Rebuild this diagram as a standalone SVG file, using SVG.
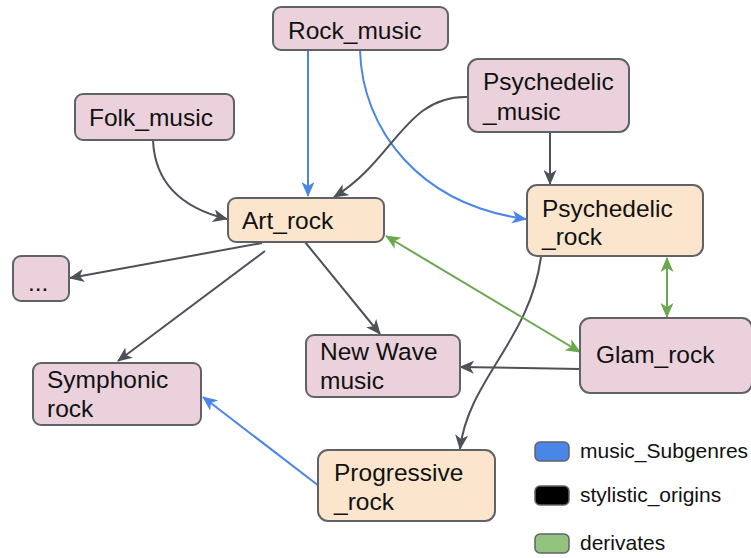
<svg xmlns="http://www.w3.org/2000/svg" width="751" height="558" viewBox="0 0 751 558">
<style>
.n rect{stroke:#5f6368;stroke-width:2}
.p rect{fill:#ead1dc}
.o rect{fill:#fce5cd}
text{font-family:"Liberation Sans",Arial,sans-serif;font-size:24.5px;fill:#111}
.lg{font-size:21px}
.e{fill:none;stroke-width:2}
.k{stroke:#4d5158}
.b{stroke:#4a86e8}
.g{stroke:#6aa84f}
</style>
<defs>
<marker id="ak" markerUnits="userSpaceOnUse" markerWidth="17" markerHeight="13" refX="14" refY="6.5" orient="auto"><path d="M0,0 L15,6.5 L0,13 L4,6.5 z" fill="#4d5158"/></marker>
<marker id="ab" markerUnits="userSpaceOnUse" markerWidth="17" markerHeight="13" refX="14" refY="6.5" orient="auto"><path d="M0,0 L15,6.5 L0,13 L4,6.5 z" fill="#4a86e8"/></marker>
<marker id="ag" markerUnits="userSpaceOnUse" markerWidth="17" markerHeight="13" refX="14" refY="6.5" orient="auto-start-reverse"><path d="M0,0 L15,6.5 L0,13 L4,6.5 z" fill="#6aa84f"/></marker>
</defs>
<g id="edges">
<path class="e b" d="M308 50 L308 196" marker-end="url(#ab)"/>
<path class="e b" d="M360 50 C362 130,420 205,526 219" marker-end="url(#ab)"/>
<path class="e k" d="M153 140 C155 190,190 210,227 219" marker-end="url(#ak)"/>
<path class="e k" d="M468 97 C405 95,395 160,334 197" marker-end="url(#ak)"/>
<path class="e k" d="M550 132 L550 184" marker-end="url(#ak)"/>
<path class="e k" d="M262 243 L70 278" marker-end="url(#ak)"/>
<path class="e k" d="M265 251 L118 361" marker-end="url(#ak)"/>
<path class="e k" d="M305 242 L380 334" marker-end="url(#ak)"/>
<path class="e k" d="M580 369 L460 367" marker-end="url(#ak)"/>
<path class="e k" d="M541 257 C530 340,468 380,460 449" marker-end="url(#ak)"/>
<path class="e b" d="M319 486 L203 397" marker-end="url(#ab)"/>
<path class="e g" d="M386 236 L580 352" marker-start="url(#ag)" marker-end="url(#ag)"/>
<path class="e g" d="M667 258 L667 317" marker-start="url(#ag)" marker-end="url(#ag)"/>
</g>
<g id="rock_music" class="n p"><rect x="273" y="7" width="175" height="43" rx="8"/><text x="288" y="39">Rock_music</text></g>
<g id="folk_music" class="n p"><rect x="75" y="94" width="159" height="46" rx="8"/><text x="89" y="126">Folk_music</text></g>
<g id="psychedelic_music" class="n p"><rect x="468" y="59" width="161" height="73" rx="10"/><text x="483" y="90">Psychedelic</text><text x="483" y="120">_music</text></g>
<g id="art_rock" class="n o"><rect x="228" y="198" width="156" height="44" rx="8"/><text x="242" y="229">Art_rock</text></g>
<g id="etc" class="n p"><rect x="13" y="256" width="56" height="45" rx="8"/><text x="28" y="291">...</text></g>
<g id="psychedelic_rock" class="n o"><rect x="527" y="185" width="176" height="71" rx="10"/><text x="542" y="217">Psychedelic</text><text x="542" y="245">_rock</text></g>
<g id="glam_rock" class="n p"><rect x="580" y="318" width="172" height="75" rx="10"/><text x="596" y="363">Glam_rock</text></g>
<g id="new_wave" class="n p"><rect x="306" y="335" width="154" height="62" rx="8"/><text x="320" y="360">New Wave</text><text x="320" y="389">music</text></g>
<g id="symphonic_rock" class="n p"><rect x="33" y="363" width="168" height="62" rx="8"/><text x="47" y="388">Symphonic</text><text x="47" y="417">rock</text></g>
<g id="progressive_rock" class="n o"><rect x="318" y="450" width="177" height="71" rx="10"/><text x="334" y="481">Progressive</text><text x="334" y="510">_rock</text></g>
<g id="legend">
<rect x="535" y="442" width="34" height="19" rx="5" fill="#4a86e8" stroke="#5f6368" stroke-width="1.5"/>
<text class="lg" x="580" y="458">music_Subgenres</text>
<rect x="535" y="486" width="34" height="19" rx="5" fill="#000" stroke="#5f6368" stroke-width="1.5"/>
<text class="lg" x="580" y="502">stylistic_origins</text>
<rect x="535" y="534" width="34" height="19" rx="5" fill="#93c47d" stroke="#5f6368" stroke-width="1.5"/>
<text class="lg" x="580" y="550">derivates</text>
</g>
</svg>
